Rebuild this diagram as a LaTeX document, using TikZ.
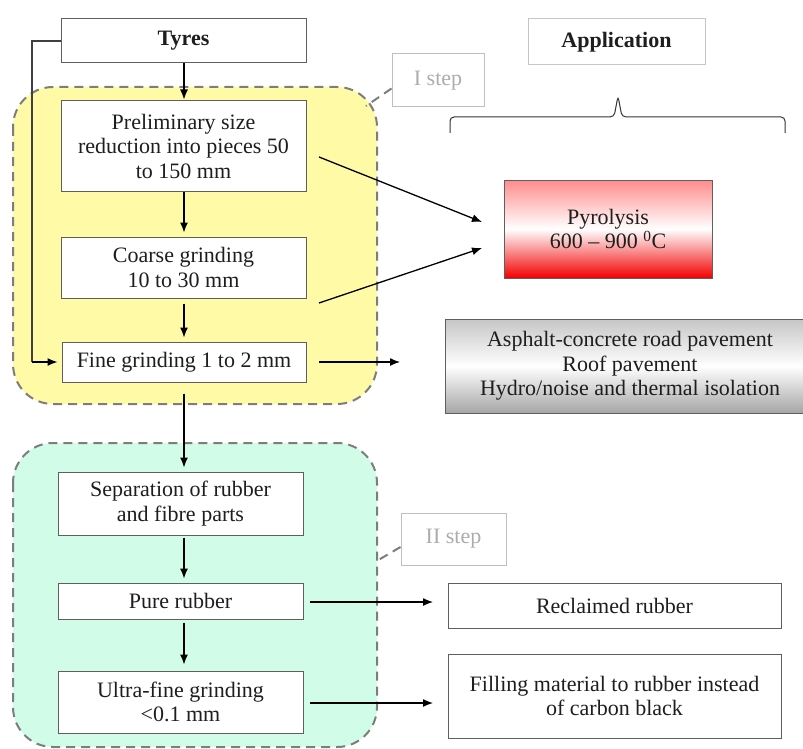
\documentclass[tikz,border=0pt]{standalone}
\usepackage{fontspec}
\setmainfont{Liberation Serif}
\usetikzlibrary{arrows.meta,calc}
\definecolor{boxline}{RGB}{95,95,95}
\definecolor{ylw}{RGB}{255,250,165}
\definecolor{mint}{RGB}{208,252,232}
\definecolor{dashgray}{RGB}{125,125,125}
\definecolor{txt}{RGB}{30,30,30}
\begin{document}
\begin{tikzpicture}[x=1pt,y=-1pt,
  font=\fontsize{22}{24.5}\selectfont,
  box/.style={draw=boxline, line width=1pt, fill=white, inner sep=0pt, align=center, text=txt},
  region/.style={draw=dashgray, dash pattern=on 9pt off 6pt, line width=2pt, rounded corners=40pt},
  arr/.style={-{Latex[length=10pt,width=8pt]}, line width=1.3pt, black},
  stepbox/.style={draw=gray!50, line width=1pt, fill=white, text=gray!65, inner sep=0pt},
  callout/.style={draw=dashgray, dash pattern=on 9pt off 6pt, line width=2pt}]
\useasboundingbox (0,0) rectangle (803,749);
% regions
\draw[region, fill=ylw] (13,87) rectangle (377,404);
\draw[region, fill=mint] (13,443) rectangle (377,747);
% step callouts
\node[stepbox, minimum width=92pt, minimum height=53pt] (istep) at (438,80.5) {I step};
\node[stepbox, minimum width=105pt, minimum height=52pt] (iistep) at (453.5,539) {II step};
\coordinate (c1) at (366,106);
\coordinate (c2) at (375,562);
\draw[callout] ($(istep.west)+(0,8)$) -- (c1);
\draw[callout] ($(iistep.west)+(0,8)$) -- (c2);
% left column
\node[box, minimum width=245pt, minimum height=44pt] (tyres) at (183.5,41) {\textbf{Tyres}};
\node[box, minimum width=245pt, minimum height=90pt] (prelim) at (183.5,146) {Preliminary size\\reduction into pieces 50\\to 150 mm};
\node[box, minimum width=245pt, minimum height=61pt] (coarse) at (183.5,267.5) {Coarse grinding\\10 to 30 mm};
\node[box, minimum width=244pt, minimum height=40pt] (fine) at (184,362) {Fine grinding 1 to 2 mm};
\node[box, minimum width=245pt, minimum height=63pt] (sep) at (180.5,503.5) {Separation of rubber\\and fibre parts};
\node[box, minimum width=245pt, minimum height=36pt] (pure) at (180.5,601) {Pure rubber};
\node[box, minimum width=245pt, minimum height=62pt] (ultra) at (180.5,702) {Ultra-fine grinding\\<0.1 mm};
% right column
\node[box, draw=gray!45, minimum width=177pt, minimum height=46pt] (app) at (616.5,42) {\textbf{Application}};
\node[box, top color=red!45, bottom color=red!95!black, middle color=white, minimum width=208pt, minimum height=98pt] (pyro) at (608,229) {Pyrolysis\\600 – 900 \textsuperscript{0}C};
\node[box, top color=gray!45, bottom color=gray!70, middle color=white, minimum width=358pt, minimum height=94pt] (asph) at (624,366) {\hspace{12pt}Asphalt-concrete road pavement\\\hspace{12pt}Roof pavement\\\hspace{12pt}Hydro/noise and thermal isolation};
\node[box, minimum width=333pt, minimum height=45pt] (recl) at (614.5,605.5) {Reclaimed rubber};
\node[box, minimum width=333pt, minimum height=84pt] (fill) at (614.5,696) {Filling material to rubber instead\\of carbon black};
% brace
\draw[line width=1pt, black!80, rounded corners=4pt] (450,133) -- (450,117) -- (614,117) -- (618,96) -- (622,117) -- (785,117) -- (785,133);
% vertical arrows
\draw[arr] (tyres.south -| fine.north) -- ($(prelim.north -| fine.north)+(0,-1)$);
\draw[arr, shorten >=4pt] (prelim.south -| fine.north) -- (coarse.north -| fine.north);
\draw[arr, shorten <=5pt, shorten >=4pt] (coarse.south -| fine.north) -- (fine.north);
\draw[arr, shorten <=11pt, shorten >=4pt] (fine.south) -- (sep.north -| fine.south);
\draw[arr, shorten <=2pt, shorten >=4pt] (sep.south -| fine.south) -- (pure.north -| fine.south);
\draw[arr, shorten <=3pt, shorten >=6pt] (pure.south -| fine.south) -- (ultra.north -| fine.south);
% feedback line
\coordinate (lt) at (32,41);
\coordinate (lb) at (32,362);
\draw[line width=1.1pt, black!75] (tyres.west) -- (lt) -- (lb);
\draw[arr, shorten >=4pt] (lb) -- (fine.west);
% horizontal arrows
\coordinate (p1s) at (319,157);
\coordinate (p1e) at (482,222);
\coordinate (p2s) at (319,303);
\coordinate (p2e) at (482,248);
\draw[arr] (p1s) -- (p1e);
\draw[arr] (p2s) -- (p2e);
\coordinate (f1s) at (319,362);
\coordinate (f1e) at (400,362);
\draw[arr] (f1s) -- (f1e);
\coordinate (r1s) at (310,602);
\coordinate (r1e) at (433,602);
\draw[arr] (r1s) -- (r1e);
\coordinate (u1s) at (310,703);
\coordinate (u1e) at (433,703);
\draw[arr] (u1s) -- (u1e);
\end{tikzpicture}
\end{document}
